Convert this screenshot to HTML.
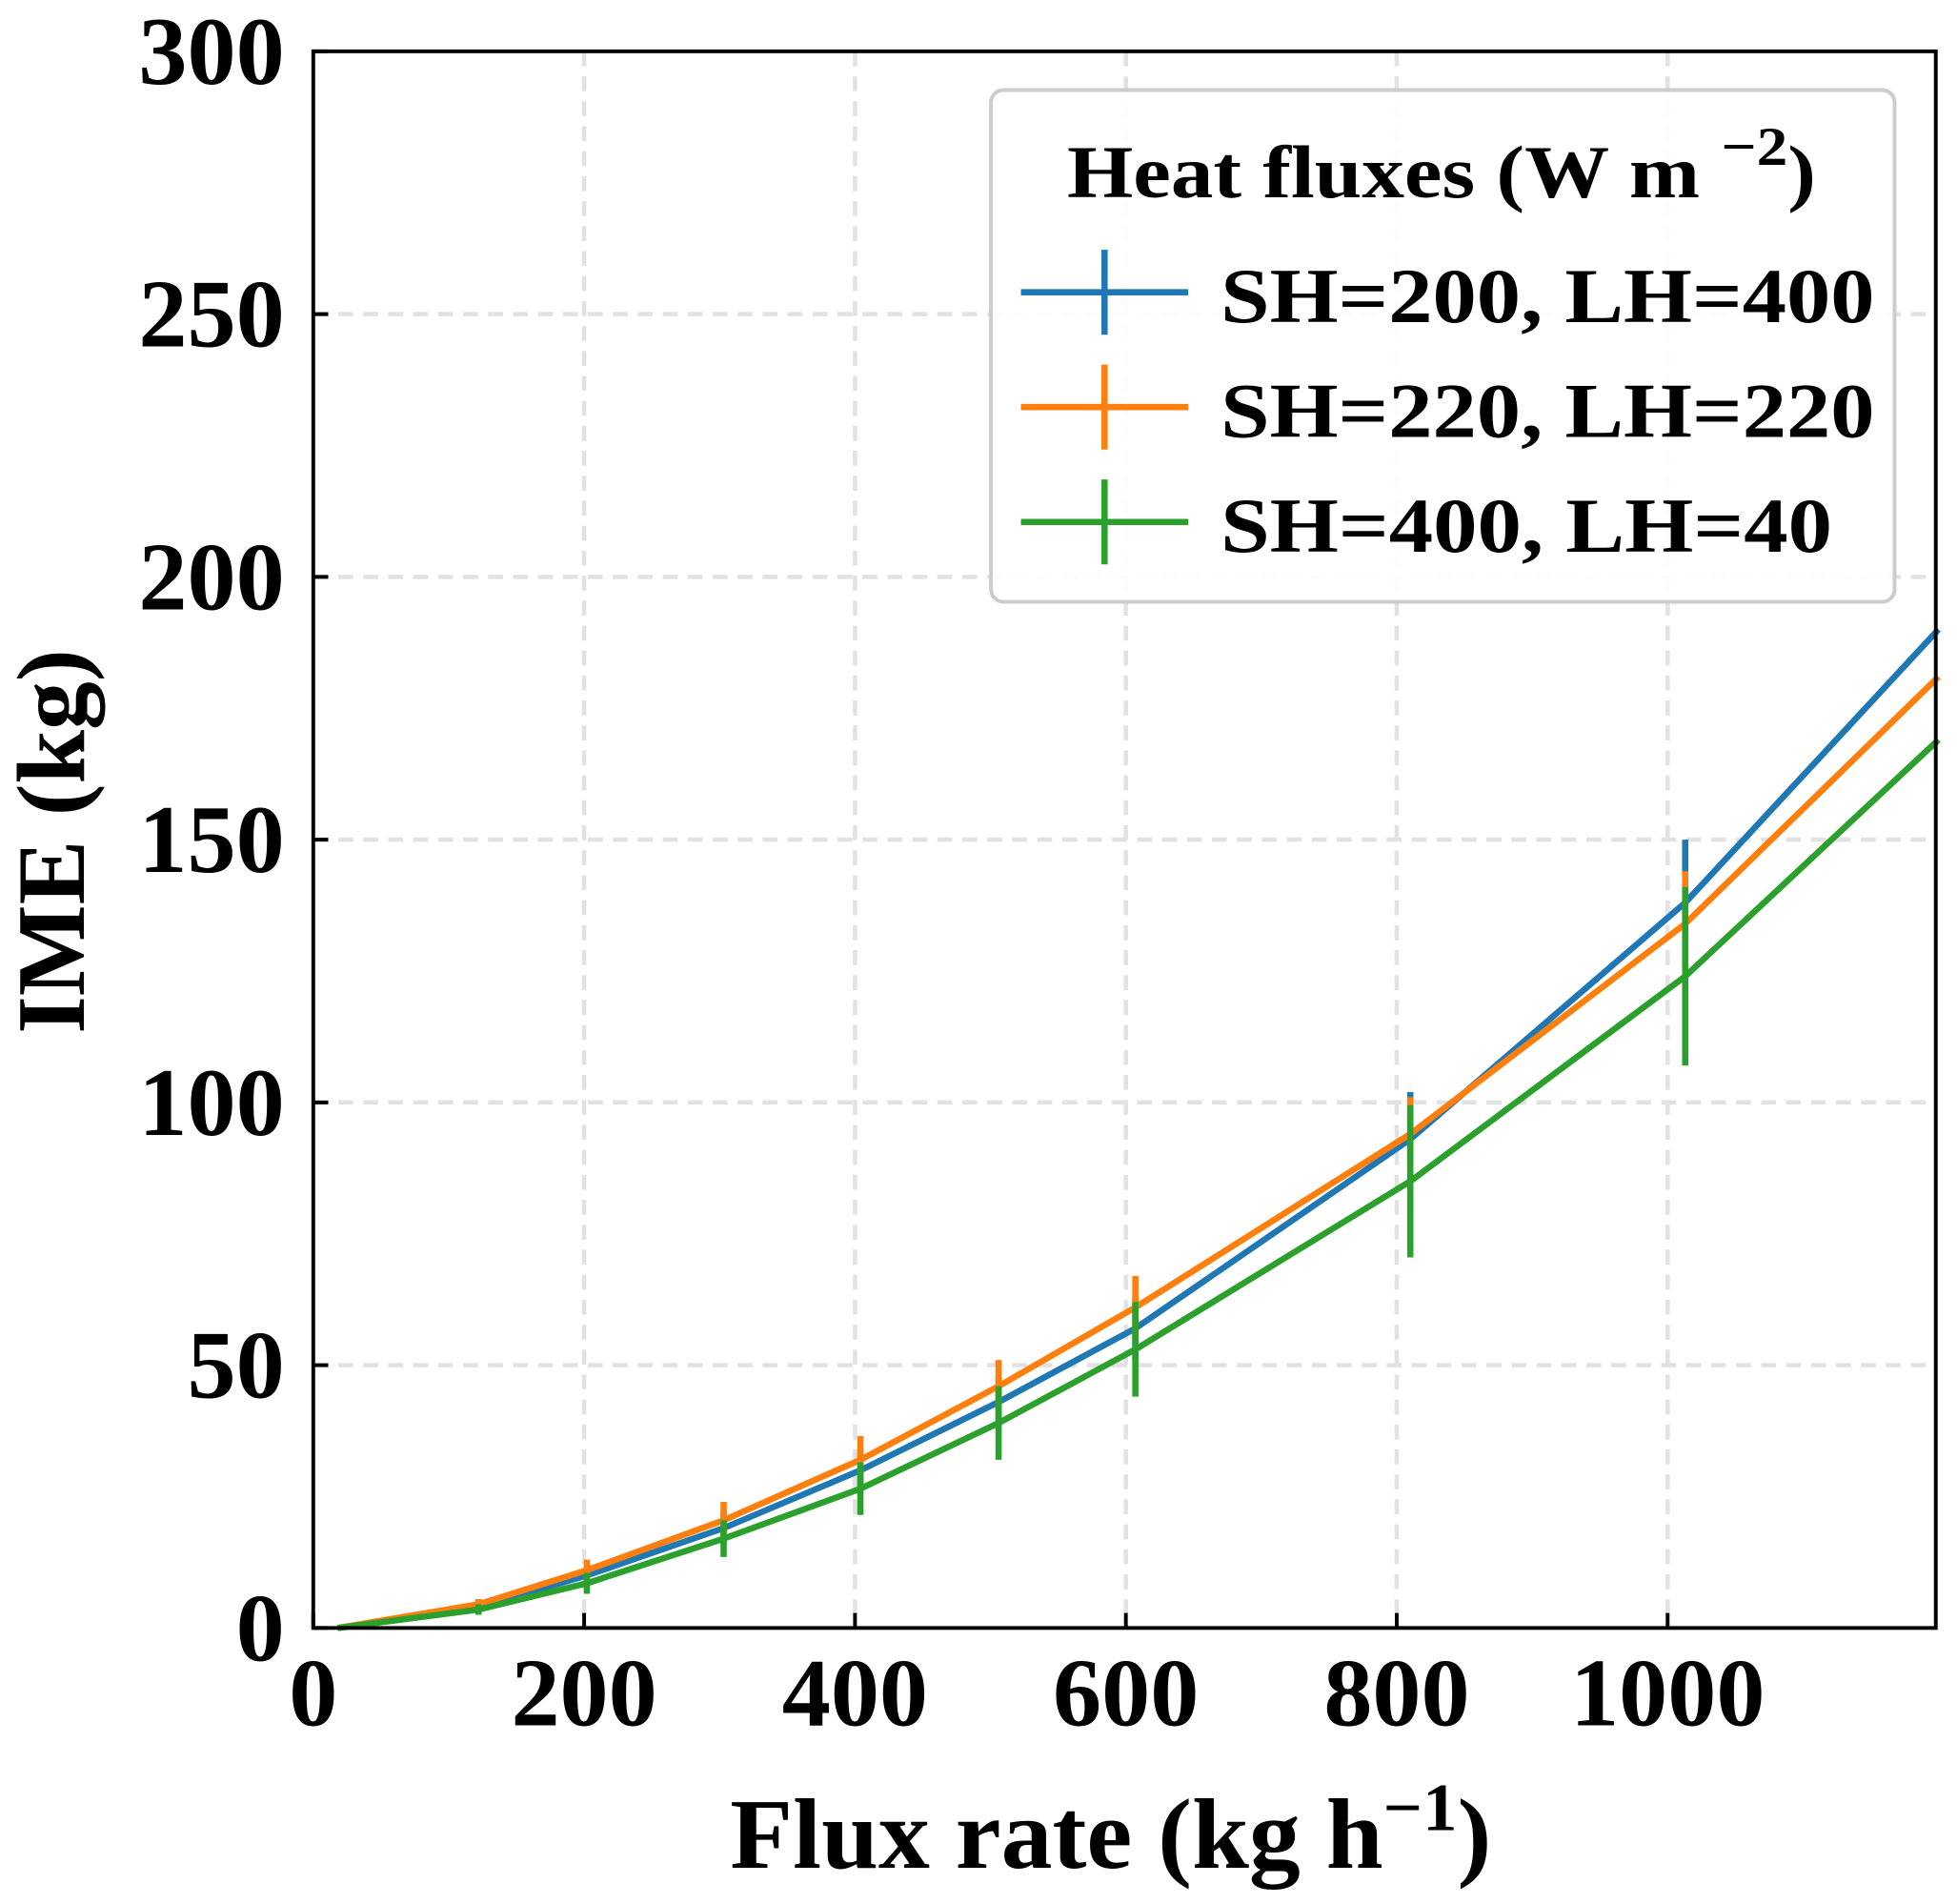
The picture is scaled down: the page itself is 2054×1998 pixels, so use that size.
<!DOCTYPE html>
<html><head><meta charset="utf-8"><style>
html,body{margin:0;padding:0;background:#fff;}
svg{display:block;font-family:"Liberation Serif",serif;font-weight:bold;}
</style></head><body>
<svg id="chart" width="2054" height="1998" viewBox="0 0 1568 1525" xmlns="http://www.w3.org/2000/svg">
<g id="grid"></g>
<g id="series"></g>
<rect x="251" y="41" width="1300" height="1263" fill="none" stroke="#000" stroke-width="3"/>
<g id="ticks"></g>
<text x="585" y="1496" font-size="80" textLength="610" lengthAdjust="spacingAndGlyphs">Flux rate (kg h<tspan dy="-30" font-size="54">−1</tspan><tspan dy="30">)</tspan></text>
<text transform="translate(67,828) rotate(-90)" font-size="78" textLength="308" lengthAdjust="spacingAndGlyphs">IME (kg)</text>
<g>
<rect x="794" y="72" width="724" height="410" rx="10" fill="#fff" fill-opacity="0.9" stroke="#ccc" stroke-width="3"/>
<text x="855" y="158" font-size="60" textLength="600" lengthAdjust="spacingAndGlyphs">Heat fluxes (W m <tspan dy="-26" font-size="44">−2</tspan><tspan dy="26">)</tspan></text>
<g><line x1="818" y1="234" x2="952" y2="234" stroke="#1f77b4" stroke-width="5"/><line x1="885" y1="200" x2="885" y2="268" stroke="#1f77b4" stroke-width="5"/><text x="978" y="258" font-size="62" textLength="524" lengthAdjust="spacingAndGlyphs">SH=200, LH=400</text></g>
<g><line x1="818" y1="326" x2="952" y2="326" stroke="#ff7f0e" stroke-width="5"/><line x1="885" y1="292" x2="885" y2="360" stroke="#ff7f0e" stroke-width="5"/><text x="978" y="350" font-size="62" textLength="524" lengthAdjust="spacingAndGlyphs">SH=220, LH=220</text></g>
<g><line x1="818" y1="418" x2="952" y2="418" stroke="#2ca02c" stroke-width="5"/><line x1="885" y1="384" x2="885" y2="452" stroke="#2ca02c" stroke-width="5"/><text x="978" y="442" font-size="62" textLength="490" lengthAdjust="spacingAndGlyphs">SH=400, LH=40</text></g>
</g>
</svg>
<script>
const xValues = [18, 122, 202, 303, 404, 506, 607, 810, 1013, 1200];
const blueY = [0, 4, 10, 19, 30, 43, 57, 93, 138, 190];
const blueErr = [0, 1, 2, 3, 4, 5, 6, 9, 12, 0];
const orangeY = [0, 4.5, 11, 20.5, 32, 46, 61, 94, 134, 181];
const orangeErr = [0, 1, 2, 3.5, 4.5, 5, 6, 7, 10, 0];
const greenY = [0, 3.5, 8.5, 17, 26.5, 39, 53, 85, 124, 169];
const greenErr = [0, 1, 2, 3.5, 5, 7, 9, 14.5, 17, 0];
const xTicks = [0, 200, 400, 600, 800, 1000];
const yTicks = [0, 50, 100, 150, 200, 250, 300];
const NS = "http://www.w3.org/2000/svg";
const X0 = 251, X1 = 1551, Y0 = 1304, Y1 = 41, XMAX = 1198, YMAX = 300;
function sx(v){return X0 + v/XMAX*(X1-X0);}
function sy(v){return Y0 - v/YMAX*(Y0-Y1);}
function mk(tag, attrs, parent){const e=document.createElementNS(NS,tag);for(const k in attrs)e.setAttribute(k,attrs[k]);parent.appendChild(e);return e;}
const grid=document.getElementById('grid'), ticks=document.getElementById('ticks'), series=document.getElementById('series');
xTicks.forEach(t=>{
  if(t>0){const g=mk('line',{x1:sx(t),x2:sx(t),y1:Y1,y2:Y0,stroke:'#e2e2e2','stroke-width':3.5,'stroke-dasharray':'12 8'},grid);
  
  }
  const tk=mk('line',{x1:sx(t),x2:sx(t),y1:Y0,y2:Y0-12,stroke:'#000','stroke-width':3},ticks);
  
  
  const lb=mk('text',{x:sx(t),y:1382,'font-size':78,'text-anchor':'middle'},ticks);lb.textContent=t;
  
  
});
yTicks.forEach(t=>{
  if(t>0&&t<300){const g=mk('line',{x1:X0,x2:X1,y1:sy(t),y2:sy(t),stroke:'#e2e2e2','stroke-width':3.5,'stroke-dasharray':'12 8'},grid);
  
  }
  const tk=mk('line',{x1:X0,x2:X0+12,y1:sy(t),y2:sy(t),stroke:'#000','stroke-width':3},ticks);
  
  
  const lb=mk('text',{x:228,y:sy(t)+26,'font-size':78,'text-anchor':'end'},ticks);lb.textContent=t;
  
  
});
function drawSeries(ys, errs, color, name){
  const pts=xValues.map((x,i)=>sx(x)+','+sy(ys[i])).join(' ');
  const pl=mk('polyline',{points:pts,fill:'none',stroke:color,'stroke-width':5,'stroke-linejoin':'round'},series);
  
  
  xValues.forEach((x,i)=>{if(errs[i]>0){
    const e=mk('line',{x1:sx(x),x2:sx(x),y1:sy(ys[i]-errs[i]),y2:sy(ys[i]+errs[i]),stroke:color,'stroke-width':5},series);
    
    
  }});
}
drawSeries(blueY, blueErr, '#1f77b4', 'sh200-lh400');
drawSeries(orangeY, orangeErr, '#ff7f0e', 'sh220-lh220');
drawSeries(greenY, greenErr, '#2ca02c', 'sh400-lh40');
</script>
</body></html>
